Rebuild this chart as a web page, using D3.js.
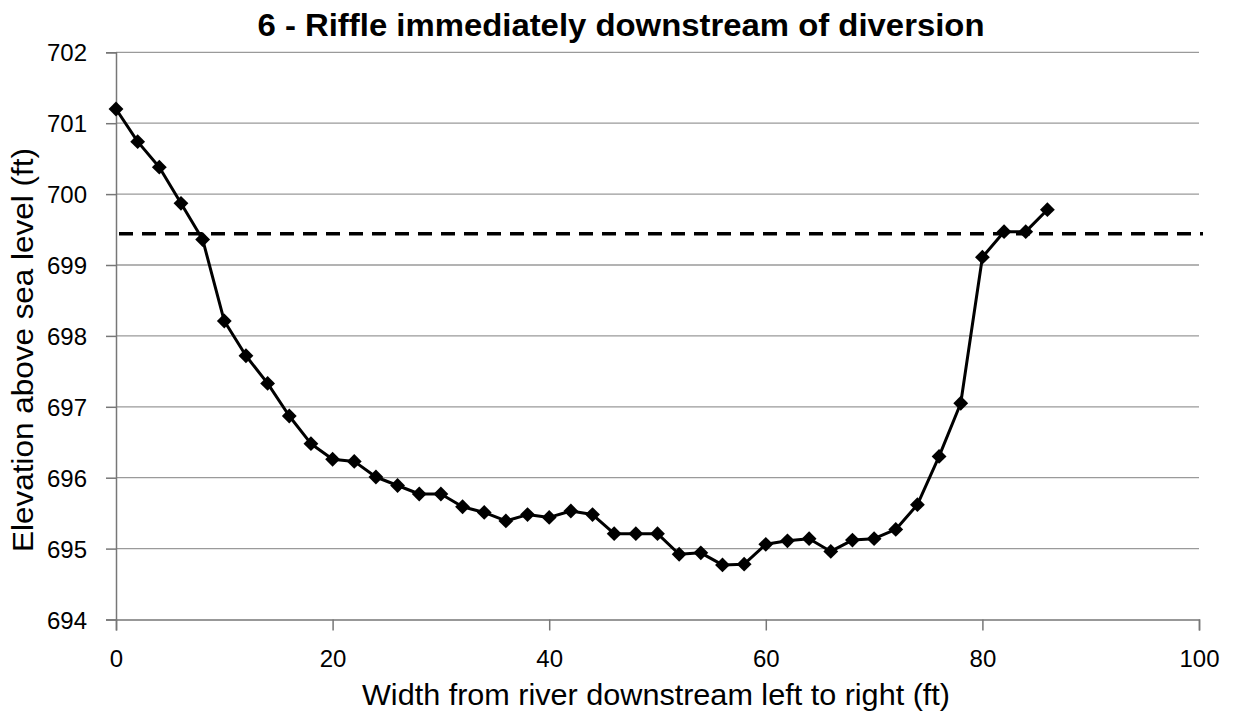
<!DOCTYPE html>
<html><head><meta charset="utf-8">
<script src="https://cdn.jsdelivr.net/npm/d3@7"></script>
<style>body{margin:0;background:#fff}svg{display:block}</style>
</head><body><svg id="c" width="1236" height="714"></svg>
<script>
const widths = [0,2,4,6,8,10,12,14,16,18,20,22,24,26,28,30,32,34,36,38,40,42,44,46,48,50,52,54,56,58,60,62,64,66,68,70,72,74,76,78,80,82,84,86];
const elevations = [701.20,700.74,700.38,699.87,699.36,698.21,697.72,697.33,696.87,696.48,696.26,696.23,696.01,695.89,695.77,695.77,695.59,695.51,695.39,695.48,695.44,695.53,695.48,695.21,695.21,695.21,694.92,694.94,694.77,694.78,695.06,695.11,695.14,694.96,695.12,695.14,695.27,695.62,696.30,697.05,699.11,699.47,699.47,699.78];
const waterSurface = 699.44;
const xTicks = [0,20,40,60,80,100];
const yTicks = [694,695,696,697,698,699,700,701,702];
const title = "6 - Riffle immediately downstream of diversion";
const xTitle = "Width from river downstream left to right (ft)";
const yTitle = "Elevation above sea level (ft)";

const svg = d3.select("#c");
const L = 116, R = 1199, T = 52.3, B = 619.5;
const x = d3.scaleLinear().domain([0,100]).range([L,R]);
const y = d3.scaleLinear().domain([694,702]).range([B,T]);
const font = "'Liberation Sans', Arial, sans-serif";

// gridlines
svg.append("g").selectAll("line").data(yTicks.slice(1)).join("line")
  .attr("x1", L).attr("x2", R).attr("y1", d=>y(d)).attr("y2", d=>y(d))
  .attr("stroke", "#9a9a9a").attr("stroke-width", 1.3);

// axes
const xAxis = d3.axisBottom(x).tickValues(xTicks).tickSize(11).tickFormat(d3.format("d"));
const gx = svg.append("g").attr("transform", `translate(0,${B})`).call(xAxis);
gx.select(".domain").attr("stroke", "#777").attr("stroke-width", 1.5);
gx.selectAll(".tick line").attr("stroke", "#777").attr("stroke-width", 1.5);
gx.selectAll("text").attr("font-family", font).attr("font-size", 24).attr("fill", "#000").attr("dy", null).attr("y", 47);

const yAxis = d3.axisLeft(y).tickValues(yTicks).tickSize(10).tickFormat(d3.format("d"));
const gy = svg.append("g").attr("transform", `translate(${L},0)`).call(yAxis);
gy.select(".domain").attr("stroke", "#777").attr("stroke-width", 1.5);
gy.selectAll(".tick line").attr("stroke", "#777").attr("stroke-width", 1.5);
gy.selectAll("text").attr("font-family", font).attr("font-size", 24).attr("fill", "#000").attr("x", -29).attr("dy", "0.36em");

// water surface dashed line
svg.append("line").attr("x1", x(0)+3).attr("x2", R+4)
  .attr("y1", y(waterSurface)).attr("y2", y(waterSurface))
  .attr("stroke", "#000").attr("stroke-width", 3.5).attr("stroke-dasharray", "14,9");

// profile line
const pts = widths.map((w,i)=>[w, elevations[i]]);
svg.append("path").datum(pts)
  .attr("d", d3.line().x(d=>x(d[0])).y(d=>y(d[1])))
  .attr("fill", "none").attr("stroke", "#000").attr("stroke-width", 3).attr("stroke-linejoin", "round");

svg.append("g").selectAll("path").data(pts).join("path")
  .attr("d", d3.symbol().type(d3.symbolDiamond2).size(140))
  .attr("transform", d=>`translate(${x(d[0])},${y(d[1])})`)
  .attr("fill", "#000");

// titles
svg.append("text").attr("x", 621).attr("y", 36).attr("text-anchor", "middle")
  .attr("font-family", font).attr("font-weight", "bold").attr("font-size", 32)
  .attr("textLength", 727).attr("lengthAdjust", "spacingAndGlyphs").text(title);
svg.append("text").attr("x", 656).attr("y", 705).attr("text-anchor", "middle")
  .attr("font-family", font).attr("font-size", 29)
  .attr("textLength", 588).attr("lengthAdjust", "spacingAndGlyphs").text(xTitle);
svg.append("text").attr("transform", "translate(33,350) rotate(-90)").attr("text-anchor", "middle")
  .attr("font-family", font).attr("font-size", 29)
  .attr("textLength", 404).attr("lengthAdjust", "spacingAndGlyphs").text(yTitle);
</script></body></html>
